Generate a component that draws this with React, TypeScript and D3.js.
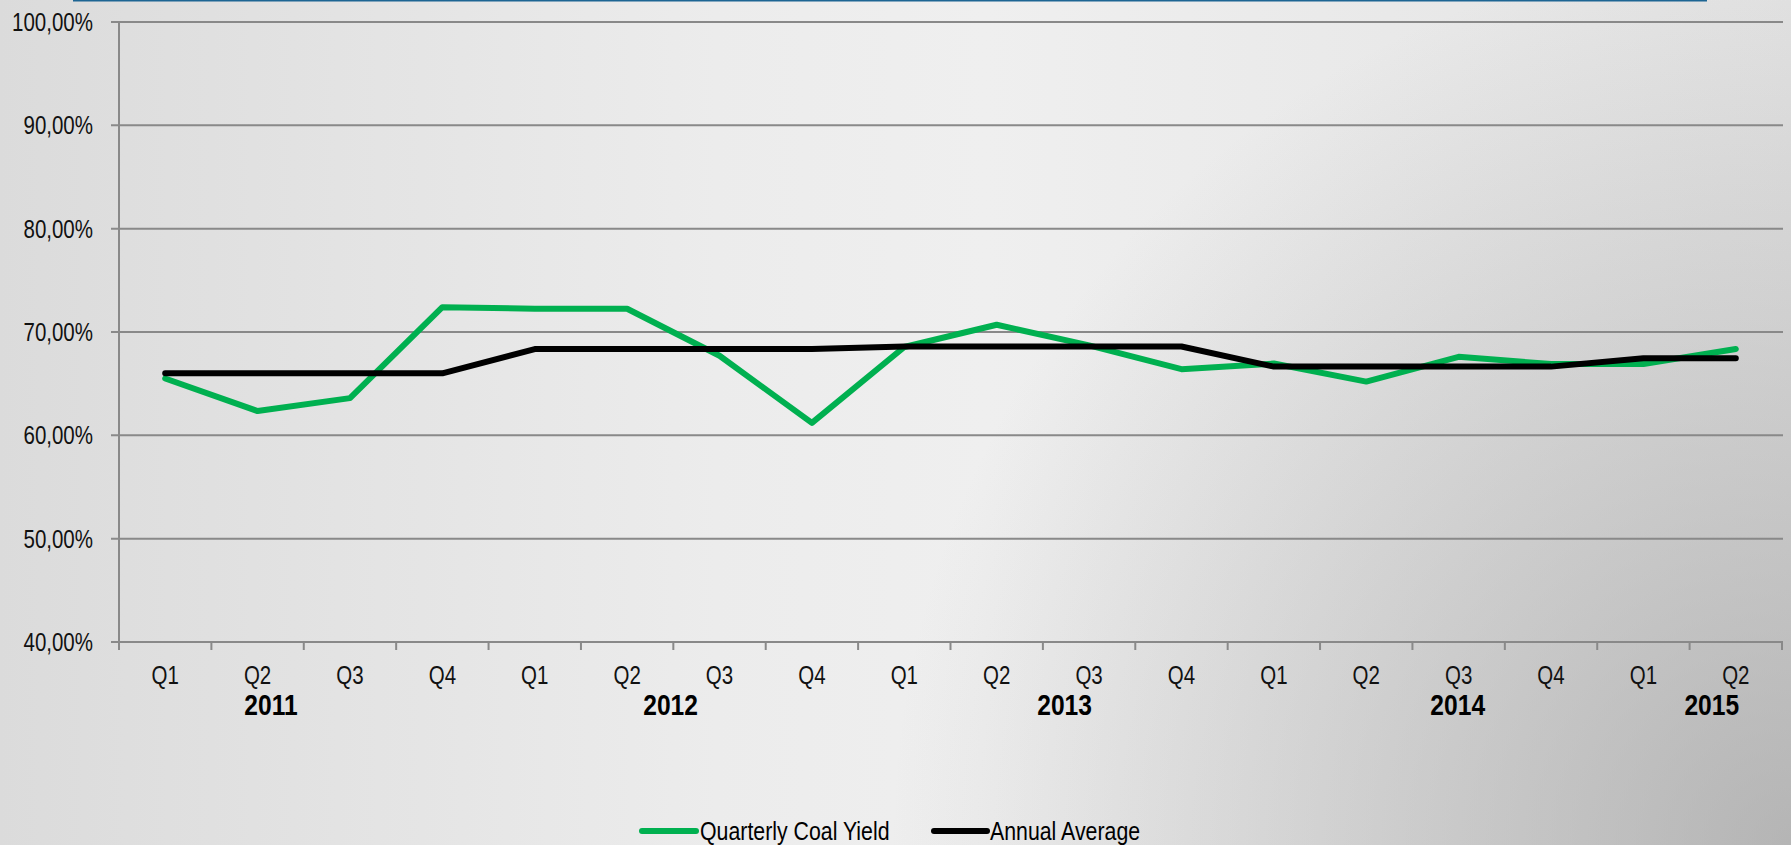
import React from "react";
import * as d3 from "d3";

const quarters = ["Q1","Q2","Q3","Q4","Q1","Q2","Q3","Q4","Q1","Q2","Q3","Q4","Q1","Q2","Q3","Q4","Q1","Q2"];
const quarterlyYield = [65.5, 62.35, 63.6, 72.4, 72.25, 72.25, 67.7, 61.2, 68.55, 70.7, 68.7, 66.4, 66.95, 65.2, 67.6, 66.9, 66.9, 68.35];
const annualAverage = [66.0, 66.0, 66.0, 66.0, 68.35, 68.35, 68.35, 68.35, 68.6, 68.6, 68.6, 68.6, 66.65, 66.65, 66.65, 66.65, 67.45, 67.45];
const years = ["2011", "2012", "2013", "2014", "2015"];
const yearLabelAt = [1.145, 5.47, 9.735, 13.99, 16.74];
const yTicks = [40, 50, 60, 70, 80, 90, 100];
const seriesNames = ["Quarterly Coal Yield", "Annual Average"];

const W = 1791;
const H = 845;
const FONT = "'Liberation Sans', Arial, sans-serif";
const SX = 0.82;

function NText(props: {
  x: number;
  y: number;
  size: number;
  anchor?: "start" | "middle" | "end";
  bold?: boolean;
  dy?: string;
  fill?: string;
  children: React.ReactNode;
}) {
  return (
    <text
      transform={`translate(${props.x},${props.y}) scale(${SX},1)`}
      textAnchor={props.anchor || "start"}
      fontSize={props.size}
      fontWeight={props.bold ? "bold" : "normal"}
      dy={props.dy}
      fill={props.fill || "#111"}
    >
      {props.children}
    </text>
  );
}

export default function App() {
  const idx = quarters.map((_, i) => i);
  const x = d3.scaleBand<number>().domain(idx).range([119, 1782]).padding(0);
  const y = d3.scaleLinear().domain([40, 100]).range([642, 22]);
  const bw = x.bandwidth();
  const cx = (i: number) => (x(i) as number) + bw / 2;
  const line = d3.line<number>().x((_, i) => cx(i)).y((d) => y(d));
  const fmt = (v: number) => d3.format(".2f")(v).replace(".", ",") + "%";
  const gridColor = "#898989";
  const green = "#00b050";

  return (
    <svg width={W} height={H} style={{ position: "absolute", left: 0, top: 0 }} fontFamily={FONT}>
      <defs>
        <linearGradient id="bgLin" x1="0" y1="0" x2="1" y2="0">
          <stop offset="0" stopColor="#dbdbdb" />
          <stop offset="0.4" stopColor="#ececec" />
          <stop offset="0.55" stopColor="#efefef" />
          <stop offset="1" stopColor="#e3e3e3" />
        </linearGradient>
        <radialGradient id="bgShade" gradientUnits="userSpaceOnUse" cx={W} cy={H} r={900}>
          <stop offset="0" stopColor="#969696" stopOpacity={0.6} />
          <stop offset="1" stopColor="#969696" stopOpacity={0} />
        </radialGradient>
      </defs>
      <rect x={0} y={0} width={W} height={H} fill="url(#bgLin)" />
      <rect x={0} y={0} width={W} height={H} fill="url(#bgShade)" />
      <rect x={73} y={0} width={1634} height={1.5} fill="#1d6593" />

      {yTicks.map((t) => (
        <g key={t}>
          <line x1={111} x2={1783} y1={y(t)} y2={y(t)} stroke={gridColor} strokeWidth={2} />
          <NText x={93} y={y(t)} dy="0.36em" anchor="end" size={25}>
            {fmt(t)}
          </NText>
        </g>
      ))}
      <line x1={119} x2={119} y1={y(100)} y2={y(40) + 8} stroke={gridColor} strokeWidth={2} />
      {idx.concat([quarters.length]).map((i) => {
        const xx = i < quarters.length ? (x(i) as number) : 1782;
        return <line key={"t" + i} x1={xx} x2={xx} y1={y(40)} y2={y(40) + 8} stroke={gridColor} strokeWidth={2} />;
      })}
      {quarters.map((q, i) => (
        <NText key={"q" + i} x={cx(i)} y={684} anchor="middle" size={25}>
          {q}
        </NText>
      ))}
      {years.map((yr, k) => (
        <NText
          key={yr}
          x={(x(0) as number) + (yearLabelAt[k] + 0.5) * bw}
          y={715}
          anchor="middle"
          size={30}
          bold
          fill="#000"
        >
          {yr}
        </NText>
      ))}

      <path d={line(quarterlyYield) || ""} fill="none" stroke={green} strokeWidth={6} strokeLinejoin="round" strokeLinecap="round" />
      <path d={line(annualAverage) || ""} fill="none" stroke="#000" strokeWidth={6} strokeLinejoin="round" strokeLinecap="round" />

      <line x1={642} x2={696} y1={831} y2={831} stroke={green} strokeWidth={6} strokeLinecap="round" />
      <NText x={700} y={840} size={26} fill="#000">{seriesNames[0]}</NText>
      <line x1={934} x2={987} y1={831} y2={831} stroke="#000" strokeWidth={6} strokeLinecap="round" />
      <NText x={990} y={840} size={26} fill="#000">{seriesNames[1]}</NText>
    </svg>
  );
}
